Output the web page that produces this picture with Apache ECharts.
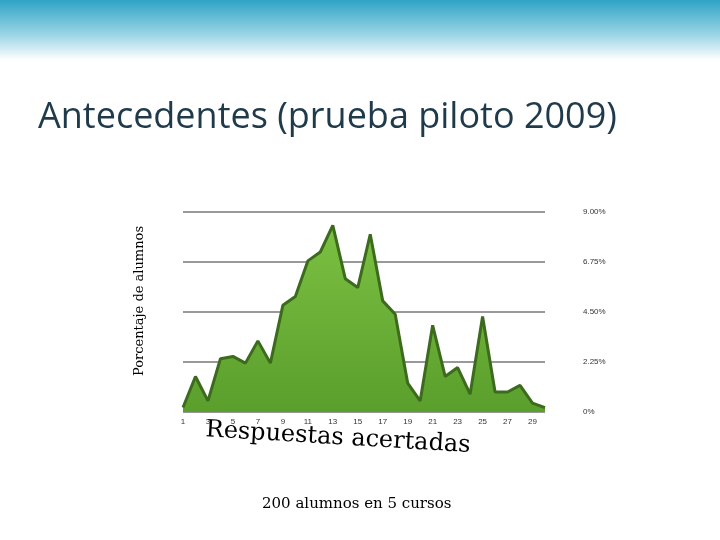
<html>
<head>
<meta charset="UTF-8">
<script src="https://cdn.jsdelivr.net/npm/echarts@6/dist/echarts.min.js"></script>
<style>body{margin:0;background:#fff}#c{width:720px;height:540px}</style>
</head>
<body>
<div id="c"></div>
<script>
var answers = [];
for (var i = 1; i <= 30; i++) answers.push(String(i));
var percents = [0.2,1.6,0.5,2.4,2.5,2.2,3.2,2.2,4.8,5.2,6.8,7.2,8.4,6.0,5.6,8.0,5.0,4.4,1.3,0.5,3.9,1.6,2.0,0.8,4.3,0.9,0.9,1.2,0.4,0.2];
var yTicks = ['0%','2.25%','4.50%','6.75%','9.00%'];

var chart = echarts.init(document.getElementById('c'));
chart.setOption({
    animation: false,
    graphic: [
        {type:'rect', shape:{x:0,y:0,width:720,height:60},
         style:{fill:new echarts.graphic.LinearGradient(0,0,0,1,[{offset:0,color:'#2fa3c6'},{offset:0.6,color:'#9fd7e6'},{offset:1,color:'#ffffff'}])}},
        {type:'text', left:38, top:100, style:{text:'Antecedentes (prueba piloto 2009)', font:'36px "Open Sans", sans-serif', fill:'#1f3a4a'}},
        {type:'text', x:133, y:376, rotation:Math.PI/2, style:{text:'Porcentaje de alumnos', font:'13px "DejaVu Serif", serif', fill:'#000'}},
        {type:'text', left:205, top:418, rotation:-0.06, style:{text:'Respuestas acertadas', font:'24px "DejaVu Serif", serif', fill:'#000'}},
        {type:'text', left:262, top:497, style:{text:'200 alumnos en 5 cursos', font:'15px "DejaVu Serif", serif', fill:'#000'}}
    ],
    grid: {left:183, right:175, top:212, bottom:128, outerBoundsMode:'none'},
    xAxis: {
        type:'category', data:answers, boundaryGap:false,
        axisLine:{show:false}, axisTick:{show:false},
        axisLabel:{interval:1, fontSize:8, color:'#333', margin:6}
    },
    yAxis: {
        type:'value', min:0, max:9, interval:2.25, position:'right',
        axisLabel:{fontSize:8, color:'#333', margin:38, formatter:function(v){return yTicks[Math.round(v/2.25)];}},
        splitLine:{lineStyle:{color:'#999', width:2}}
    },
    series: [{
        type:'line', data:percents, symbol:'none',
        lineStyle:{color:'#3d6b1e', width:3},
        areaStyle:{color:new echarts.graphic.LinearGradient(0,0,0,1,[{offset:0,color:'#7cc142'},{offset:1,color:'#5a9e2c'}]), opacity:1}
    }]
});
</script>
</body>
</html>
